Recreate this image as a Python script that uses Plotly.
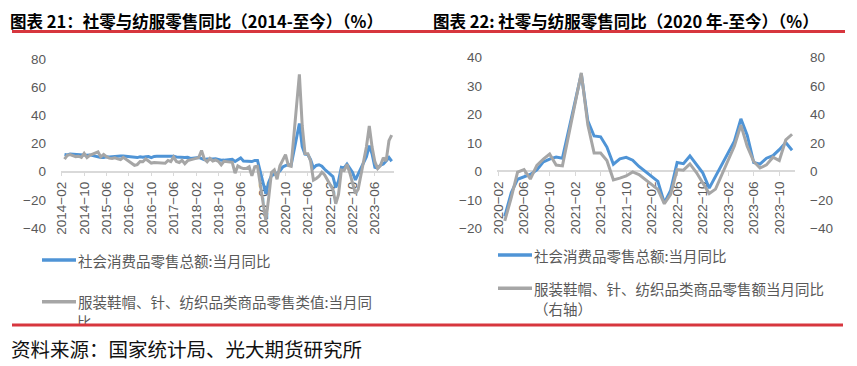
import plotly.graph_objects as go
import pandas as pd

# page body has an 8px margin: the figure is sized so it fills the 857x366 window exactly
OFF = 8
W, H = 857 - OFF, 366 - OFF

# ---------------- data ----------------
years = list(range(2014, 2024))
month_nums = list(range(3, 13))  # Jan/Feb not reported separately
months = [f"{y}-{m:02d}" for y in years for m in month_nums]

retail_yoy = [
    12.2, 11.9, 12.5, 12.4, 12.2, 11.9, 11.6, 11.5, 11.7, 11.9,
    10.2, 10.0, 10.1, 10.6, 10.5, 10.8, 10.9, 11.0, 11.2, 11.1,
    10.5, 10.1, 10.0, 10.6, 10.2, 10.6, 10.7, 10.0, 10.8, 10.9,
    10.9, 10.7, 10.7, 11.0, 10.4, 10.1, 10.3, 10.0, 10.2, 9.4,
    10.1, 9.4, 8.5, 9.0, 8.8, 9.0, 9.2, 8.6, 8.1, 8.2,
    8.7, 7.2, 8.6, 9.8, 7.6, 7.5, 7.8, 7.2, 8.0, 8.0,
    -15.8, -7.5, -2.8, -1.8, -1.1, 0.5, 3.3, 4.3, 5.0, 4.6,
    34.2, 17.7, 12.4, 12.1, 8.5, 2.5, 4.4, 4.9, 3.9, 1.7,
    -3.5, -11.1, -6.7, 3.1, 2.7, 5.4, 2.5, -0.5, -5.9, -1.8,
    10.6, 18.4, 12.7, 3.1, 2.5, 4.6, 5.5, 7.6, 10.1, 7.4,
]

apparel_yoy = [
    8.9, 11.6, 12.2, 11.5, 10.7, 11.0, 10.1, 13.0, 10.0, 11.6,
    14.0, 10.5, 12.2, 10.6, 9.6, 9.3, 9.8, 9.1, 8.5, 10.2,
    5.6, 4.5, 5.0, 7.2, 7.0, 9.0, 7.6, 6.1, 6.5, 6.3,
    6.0, 8.0, 7.2, 10.5, 7.2, 6.5, 8.1, 5.6, 7.8, 8.4,
    10.0, 15.0, 9.0, 7.0, 9.4, 7.6, 8.3, 7.3, 4.8, 7.4,
    6.6, -1.1, 4.1, 2.9, 2.2, 2.3, 3.5, -3.0, 3.5, 3.9,
    -34.8, -18.5, -0.6, 1.2, -5.4, 4.2, 8.6, 12.1, 4.4, 3.8,
    69.1, 32.6, 12.9, 12.8, 7.5, -6.0, -4.8, -3.3, -0.4, -2.3,
    -12.7, -22.8, -16.2, 1.2, 0.8, 5.2, -0.9, -8.3, -15.6, -12.5,
    17.7, 32.4, 17.6, 6.9, 2.3, 4.5, 9.9, 7.5, 22.0, 26.0,
]

left_ticks = ["2014-02", "2014-10", "2015-06", "2016-02", "2016-10", "2017-06",
              "2018-02", "2018-10", "2019-06", "2020-02", "2020-10", "2021-06",
              "2022-02", "2022-10", "2023-06"]
right_ticks = ["2020-02", "2020-06", "2020-10", "2021-02", "2021-06", "2021-10",
               "2022-02", "2022-06", "2022-10", "2023-02", "2023-06", "2023-10"]

title_left = "图表 21：社零与纺服零售同比（2014-至今）（%）"
title_right = "图表 22: 社零与纺服零售同比（2020 年-至今）（%）"
name_retail = "社会消费品零售总额:当月同比"
name_apparel_left = "服装鞋帽、针、纺织品类商品零售类值:当月同"
name_apparel_left_tail = "比"
name_apparel_right = "服装鞋帽、针、纺织品类商品零售额当月同比"
name_apparel_right_2 = "（右轴）"
source_text = "资料来源：国家统计局、光大期货研究所"

# ---------------- helpers (screen pixel -> paper fraction) ----------------
def px(x):
    return (x - OFF) / W

def py(y):
    return 1 - (y - OFF) / H

dates = pd.to_datetime([m + "-01" for m in months])
right_start = months.index("2020-03")
dates_r = dates[right_start:]

BLUE = "#4F94D6"
GRAY = "#A6A6A6"
RED = "#D7363E"
TXT = "#595959"
AXC = "#D9D9D9"
CJK = "Noto Sans CJK SC"
LAT = "Liberation Sans"

def tv(ticks):
    return [t + "-01" for t in ticks]

def tt(ticks):
    return [t.replace("-", "−") for t in ticks]

fig = go.Figure()

# left chart
fig.add_trace(go.Scatter(x=dates, y=retail_yoy, xaxis="x", yaxis="y", mode="lines",
                         line=dict(color=BLUE, width=3), showlegend=False, name=name_retail))
fig.add_trace(go.Scatter(x=dates, y=apparel_yoy, xaxis="x", yaxis="y", mode="lines",
                         line=dict(color=GRAY, width=3), showlegend=False, name=name_apparel_left))
# right chart
fig.add_trace(go.Scatter(x=dates_r, y=retail_yoy[right_start:], xaxis="x2", yaxis="y2", mode="lines",
                         line=dict(color=BLUE, width=3), showlegend=False, name=name_retail))
fig.add_trace(go.Scatter(x=dates_r, y=apparel_yoy[right_start:], xaxis="x2", yaxis="y3", mode="lines",
                         line=dict(color=GRAY, width=3), showlegend=False, name=name_apparel_right))
# clipped legend tail text (drawn as a text trace so the red rule can cover it)
fig.add_trace(go.Scatter(x=[77], y=[324.5], xaxis="x4", yaxis="y4", mode="text",
                         text=[name_apparel_left_tail], textposition="middle right",
                         textfont=dict(family=CJK, size=14.5, color=TXT), showlegend=False,
                         hoverinfo="skip"))

xcommon = dict(type="date", showgrid=False, zeroline=False, showline=True, linecolor=AXC,
               linewidth=1.5, ticks="outside", ticklen=4, tickcolor=AXC, tickwidth=1,
               tickangle=-90, tickfont=dict(family=LAT, size=13.5, color=TXT),
               anchor="free", layer="below traces", fixedrange=True, automargin=False)
ycommon = dict(showgrid=False, zeroline=False, showline=False, ticks="",
               tickfont=dict(family=LAT, size=13.5, color=TXT), ticklabelstandoff=14,
               fixedrange=True, automargin=False)

L_TOP, L_BOT = 59.0, 228.0
R_TOP, R_BOT = 57.3, 228.3
l_zero = L_TOP + (80 / 120) * (L_BOT - L_TOP)
r_zero = R_TOP + (40 / 60) * (R_BOT - R_TOP)

fig.update_layout(
    template="none",
    width=W, height=H, autosize=False,
    margin=dict(l=0, r=0, t=0, b=0, pad=0, autoexpand=False),
    paper_bgcolor="white", plot_bgcolor="rgba(0,0,0,0)",
    showlegend=False,
    xaxis=dict(xcommon, domain=[px(61), px(394)], range=["2014-01-22", "2023-12-26"],
               position=py(l_zero), tickvals=tv(left_ticks), ticktext=tt(left_ticks)),
    yaxis=dict(ycommon, domain=[py(L_BOT), py(L_TOP)], range=[-40, 80], dtick=20, tick0=0,
               anchor="x"),
    xaxis2=dict(xcommon, domain=[px(497), px(795)], range=["2020-01-24", "2023-12-15"],
                position=py(r_zero), tickvals=tv(right_ticks), ticktext=tt(right_ticks)),
    yaxis2=dict(ycommon, domain=[py(R_BOT), py(R_TOP)], range=[-20, 40], dtick=10, tick0=0,
                anchor="x2"),
    yaxis3=dict(ycommon, range=[-40, 80], dtick=20, tick0=0, overlaying="y2", side="right",
                anchor="x2"),
    xaxis4=dict(domain=[0, 1], range=[OFF, OFF + W], visible=False, fixedrange=True, anchor="y4",
                automargin=False),
    yaxis4=dict(domain=[0, 1], range=[OFF + H, OFF], visible=False, fixedrange=True, anchor="x4",
                automargin=False),
)

shapes = [
    # white cover below bottom rule (crops the tail text)
    dict(type="rect", xref="paper", yref="paper", x0=px(60), x1=px(120), y0=py(340), y1=py(325),
         fillcolor="white", line=dict(width=0), layer="above"),
    # red rules
    dict(type="line", xref="paper", yref="paper", x0=px(12), x1=px(845), y0=py(31.5), y1=py(31.5),
         line=dict(color=RED, width=3), layer="above"),
    dict(type="line", xref="paper", yref="paper", x0=px(12), x1=px(843), y0=py(325), y1=py(325),
         line=dict(color=RED, width=3), layer="above"),
    # legend samples
    dict(type="line", xref="paper", yref="paper", x0=px(42), x1=px(76), y0=py(260), y1=py(260),
         line=dict(color=BLUE, width=3.5)),
    dict(type="line", xref="paper", yref="paper", x0=px(42), x1=px(76), y0=py(301.7), y1=py(301.7),
         line=dict(color=GRAY, width=3.5)),
    dict(type="line", xref="paper", yref="paper", x0=px(498), x1=px(532), y0=py(255), y1=py(255),
         line=dict(color=BLUE, width=3.5)),
    dict(type="line", xref="paper", yref="paper", x0=px(498), x1=px(532), y0=py(288.3), y1=py(288.3),
         line=dict(color=GRAY, width=3.5)),
]
fig.update_layout(shapes=shapes)

def ann(text, x, y, size, color=TXT, bold=False, yanchor="middle"):
    return dict(text=("<b>%s</b>" % text) if bold else text, x=px(x), y=py(y),
                xref="paper", yref="paper", xanchor="left", yanchor=yanchor,
                showarrow=False, borderpad=0,
                font=dict(family=CJK, size=size, color=color))

fig.update_layout(annotations=[
    ann(title_left, 9, OFF, 16.5, "#000000", True, "top"),
    ann(title_right, 432, OFF, 16.5, "#000000", True, "top"),
    ann(name_retail, 77, 260, 14.5),
    ann(name_apparel_left, 77, 301.7, 14.5),
    ann(name_retail, 533, 255, 14.5),
    ann(name_apparel_right, 533, 288.3, 14.5),
    ann(name_apparel_right_2, 533, 308.3, 14.5),
    ann(source_text, 10, 348.5, 19.5, "#111111"),
])

fig.write_html("out.html")
